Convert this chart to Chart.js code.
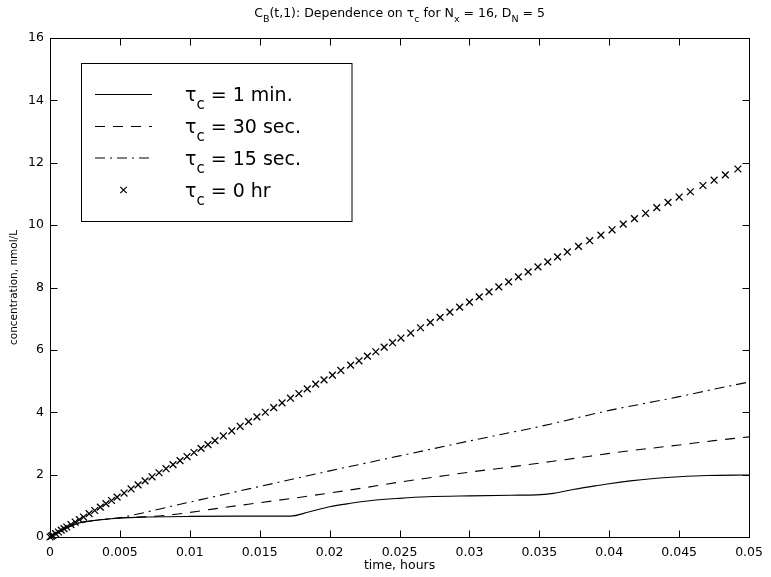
<!DOCTYPE html>
<html><head><meta charset="utf-8">
<script src="https://cdn.jsdelivr.net/npm/chart.js@4"></script>
<style>html,body{margin:0;padding:0;background:#fff}</style>
</head><body>
<canvas id="c" width="771" height="577"></canvas>
<script>
// ---- data ----
const xTickLabels = ['0','0.005','0.01','0.015','0.02','0.025','0.03','0.035','0.04','0.045','0.05'];
const yTickLabels = ['0','2','4','6','8','10','12','14','16'];
const legendValues = [' = 1 min.', ' = 30 sec.', ' = 15 sec.', ' = 0 hr'];

const t1min = [0,0.0005,0.001,0.0015,0.002,0.003,0.004,0.005,0.007,0.01,0.0135,0.0172,0.0185,0.02,0.0215,0.023,0.025,0.027,0.03,0.033,0.0348,0.036,0.0375,0.039,0.04,0.0415,0.043,0.045,0.047,0.05];
const c1min = [0,0.13,0.25,0.35,0.44,0.52,0.57,0.61,0.64,0.66,0.67,0.67,0.80,0.97,1.08,1.17,1.24,1.29,1.32,1.34,1.35,1.40,1.53,1.64,1.71,1.80,1.87,1.93,1.97,1.99];

const t30s = [0,0.001,0.002,0.003,0.004,0.005,0.006,0.007,0.008,0.009,0.0105,0.0125,0.015,0.0175,0.02,0.0225,0.025,0.0275,0.03,0.0325,0.035,0.0375,0.04,0.0425,0.045,0.0475,0.05];
const c30s = [0,0.25,0.44,0.52,0.57,0.61,0.63,0.65,0.68,0.73,0.82,0.95,1.10,1.25,1.41,1.58,1.76,1.92,2.08,2.22,2.37,2.52,2.68,2.82,2.95,3.09,3.21];

const t15s = [0,0.001,0.002,0.003,0.004,0.005,0.006,0.0075,0.009,0.0107,0.0125,0.015,0.0175,0.02,0.0225,0.025,0.0275,0.03,0.0325,0.035,0.0375,0.04,0.0425,0.045,0.0475,0.05];
const c15s = [0,0.25,0.44,0.52,0.57,0.62,0.71,0.86,1.02,1.19,1.37,1.62,1.87,2.12,2.36,2.60,2.84,3.08,3.31,3.54,3.80,4.06,4.28,4.50,4.74,4.97];

const t0hr = [0,0.0001,0.0002,0.0004,0.0006,0.0008,0.0010,0.0012,0.0015,0.0018,0.0021,0.0024,0.0028,0.0032,0.0036,0.0040,0.0044,0.0048,0.0053,0.0058,0.0063,0.0068,0.0073,0.0078,0.0083,0.0088,0.0093,0.0098,0.0103,0.0108,0.0113,0.0118,0.0124,0.0130,0.0136,0.0142,0.0148,0.0154,0.0160,0.0166,0.0172,0.0178,0.0184,0.0190,0.0196,0.0202,0.0208,0.0215,0.0221,0.0227,0.0233,0.0239,0.0245,0.0251,0.0258,0.0265,0.0272,0.0279,0.0286,0.0293,0.0300,0.0307,0.0314,0.0321,0.0328,0.0335,0.0342,0.0349,0.0356,0.0363,0.0370,0.0378,0.0386,0.0394,0.0402,0.0410,0.0418,0.0426,0.0434,0.0442,0.0450,0.0458,0.0467,0.0475,0.0483,0.0492];
const c0hr = [0,0.03,0.05,0.11,0.16,0.22,0.27,0.32,0.40,0.48,0.56,0.64,0.75,0.85,0.96,1.07,1.17,1.28,1.41,1.54,1.67,1.80,1.93,2.06,2.19,2.32,2.45,2.58,2.71,2.84,2.96,3.09,3.24,3.40,3.55,3.70,3.85,4.00,4.15,4.30,4.45,4.60,4.75,4.90,5.04,5.19,5.34,5.51,5.65,5.80,5.94,6.09,6.23,6.38,6.54,6.71,6.88,7.04,7.21,7.37,7.53,7.70,7.86,8.02,8.18,8.34,8.50,8.66,8.82,8.98,9.14,9.32,9.50,9.68,9.85,10.03,10.21,10.38,10.56,10.73,10.90,11.07,11.27,11.44,11.61,11.80];

const pts = (xs, ys) => xs.map((x, i) => ({x, y: ys[i]}));
const FONT = '"DejaVu Sans", sans-serif';

const dashes = [[], [10, 8], [10, 5, 2, 5]];

const overlay = {
  id: 'overlay',
  afterDraw(chart) {
    const ctx = chart.ctx, a = chart.chartArea;
    const xs = chart.scales.x, ys = chart.scales.y;
    ctx.save();
    ctx.strokeStyle = '#000'; ctx.lineWidth = 1; ctx.setLineDash([]);
    const L = Math.round(a.left) + 0.5, R = Math.round(a.right) + 0.5;
    const T = Math.round(a.top) + 0.5, B = Math.round(a.bottom) + 0.5;
    ctx.strokeRect(L, T, R - L, B - T);
    const tl = 7;
    ctx.beginPath();
    xs.ticks.forEach(t => {
      const p = Math.round(xs.getPixelForValue(t.value)) + 0.5;
      ctx.moveTo(p, B); ctx.lineTo(p, B - tl);
      ctx.moveTo(p, T); ctx.lineTo(p, T + tl);
    });
    ys.ticks.forEach(t => {
      const p = Math.round(ys.getPixelForValue(t.value)) + 0.5;
      ctx.moveTo(L, p); ctx.lineTo(L + tl, p);
      ctx.moveTo(R, p); ctx.lineTo(R - tl, p);
    });
    ctx.stroke();

    // title with subscripts
    const segs = [['C',0],['B',1],['(t,1): Dependence on τ',0],['c',1],[' for N',0],['x',1],[' = 16, D',0],['N',1],[' = 5',0]];
    const mainF = '12.5px ' + FONT, subF = '9.5px ' + FONT;
    let w = 0;
    segs.forEach(s => { ctx.font = s[1] ? subF : mainF; w += ctx.measureText(s[0]).width; });
    let x = (a.left + a.right) / 2 - w / 2;
    ctx.fillStyle = '#000'; ctx.textBaseline = 'alphabetic'; ctx.textAlign = 'left';
    segs.forEach(s => {
      ctx.font = s[1] ? subF : mainF;
      ctx.fillText(s[0], x, s[1] ? 21.5 : 17);
      x += ctx.measureText(s[0]).width;
    });

    // legend box
    ctx.fillStyle = '#fff';
    ctx.fillRect(81.5, 63.5, 270.5, 158);
    ctx.strokeRect(81.5, 63.5, 270.5, 158);
    const rows = [94.5, 126.5, 158, 190];
    chart.data.datasets.forEach((ds, i) => {
      const y = rows[i];
      ctx.strokeStyle = '#000'; ctx.lineWidth = 1;
      if (i < 3) {
        ctx.setLineDash(dashes[i]);
        ctx.beginPath(); ctx.moveTo(95, y); ctx.lineTo(152, y); ctx.stroke();
        ctx.setLineDash([]);
      } else {
        const r = 3.2;
        ctx.lineWidth = 1.2;
        ctx.beginPath();
        ctx.moveTo(123.5 - r, y - r); ctx.lineTo(123.5 + r, y + r);
        ctx.moveTo(123.5 + r, y - r); ctx.lineTo(123.5 - r, y + r);
        ctx.stroke();
      }
      ctx.fillStyle = '#000';
      let tx = 185;
      ctx.font = '19px ' + FONT;
      ctx.fillText('τ', tx, y + 6.5); tx += ctx.measureText('τ').width;
      ctx.font = '15px ' + FONT;
      ctx.fillText('c', tx, y + 14.5); tx += ctx.measureText('c').width;
      ctx.font = '19px ' + FONT;
      ctx.fillText(legendValues[i], tx, y + 6.5);
    });
    ctx.restore();
  }
};

new Chart(document.getElementById('c'), {
  type: 'line',
  data: {
    datasets: [
      {label: 'τc = 1 min.', data: pts(t1min, c1min), borderColor: '#000', borderWidth: 1.1, pointRadius: 0, fill: false, cubicInterpolationMode: 'monotone'},
      {label: 'τc = 30 sec.', data: pts(t30s, c30s), borderColor: '#000', borderWidth: 1.1, borderDash: dashes[1], pointRadius: 0, fill: false, cubicInterpolationMode: 'monotone'},
      {label: 'τc = 15 sec.', data: pts(t15s, c15s), borderColor: '#000', borderWidth: 1.1, borderDash: dashes[2], pointRadius: 0, fill: false, cubicInterpolationMode: 'monotone'},
      {label: 'τc = 0 hr', data: pts(t0hr, c0hr), showLine: false, pointStyle: 'crossRot', pointRadius: 4.8, pointBorderWidth: 1.3, borderColor: '#000', pointBorderColor: '#000', clip: false}
    ]
  },
  options: {
    responsive: false, animation: false, devicePixelRatio: 1,
    layout: {padding: {top: 38, right: 20, left: 0, bottom: 0}},
    plugins: {legend: {display: false}, title: {display: false}, tooltip: {enabled: false}},
    scales: {
      x: {
        type: 'linear', min: 0, max: 0.05,
        afterFit: s => { s.height = 40; },
        grid: {display: false, drawTicks: false}, border: {display: false},
        ticks: {stepSize: 0.005, autoSkip: false, maxRotation: 0, padding: 8, color: '#000',
                font: {family: FONT, size: 12.5}, callback: (v, i) => xTickLabels[i]},
        title: {display: true, text: 'time, hours', color: '#000', font: {family: FONT, size: 12.5}, padding: {top: 0, bottom: 4}}
      },
      y: {
        type: 'linear', min: 0, max: 16,
        afterFit: s => { s.width = 50; },
        grid: {display: false, drawTicks: false}, border: {display: false},
        ticks: {stepSize: 2, padding: 6, color: '#000', font: {family: FONT, size: 12.5},
                callback: (v, i) => yTickLabels[i]},
        title: {display: true, text: 'concentration, nmol/L', color: '#000', font: {family: FONT, size: 10.5}, padding: {top: 7.5, bottom: 0}}
      }
    }
  },
  plugins: [overlay]
});
</script>
</body></html>
